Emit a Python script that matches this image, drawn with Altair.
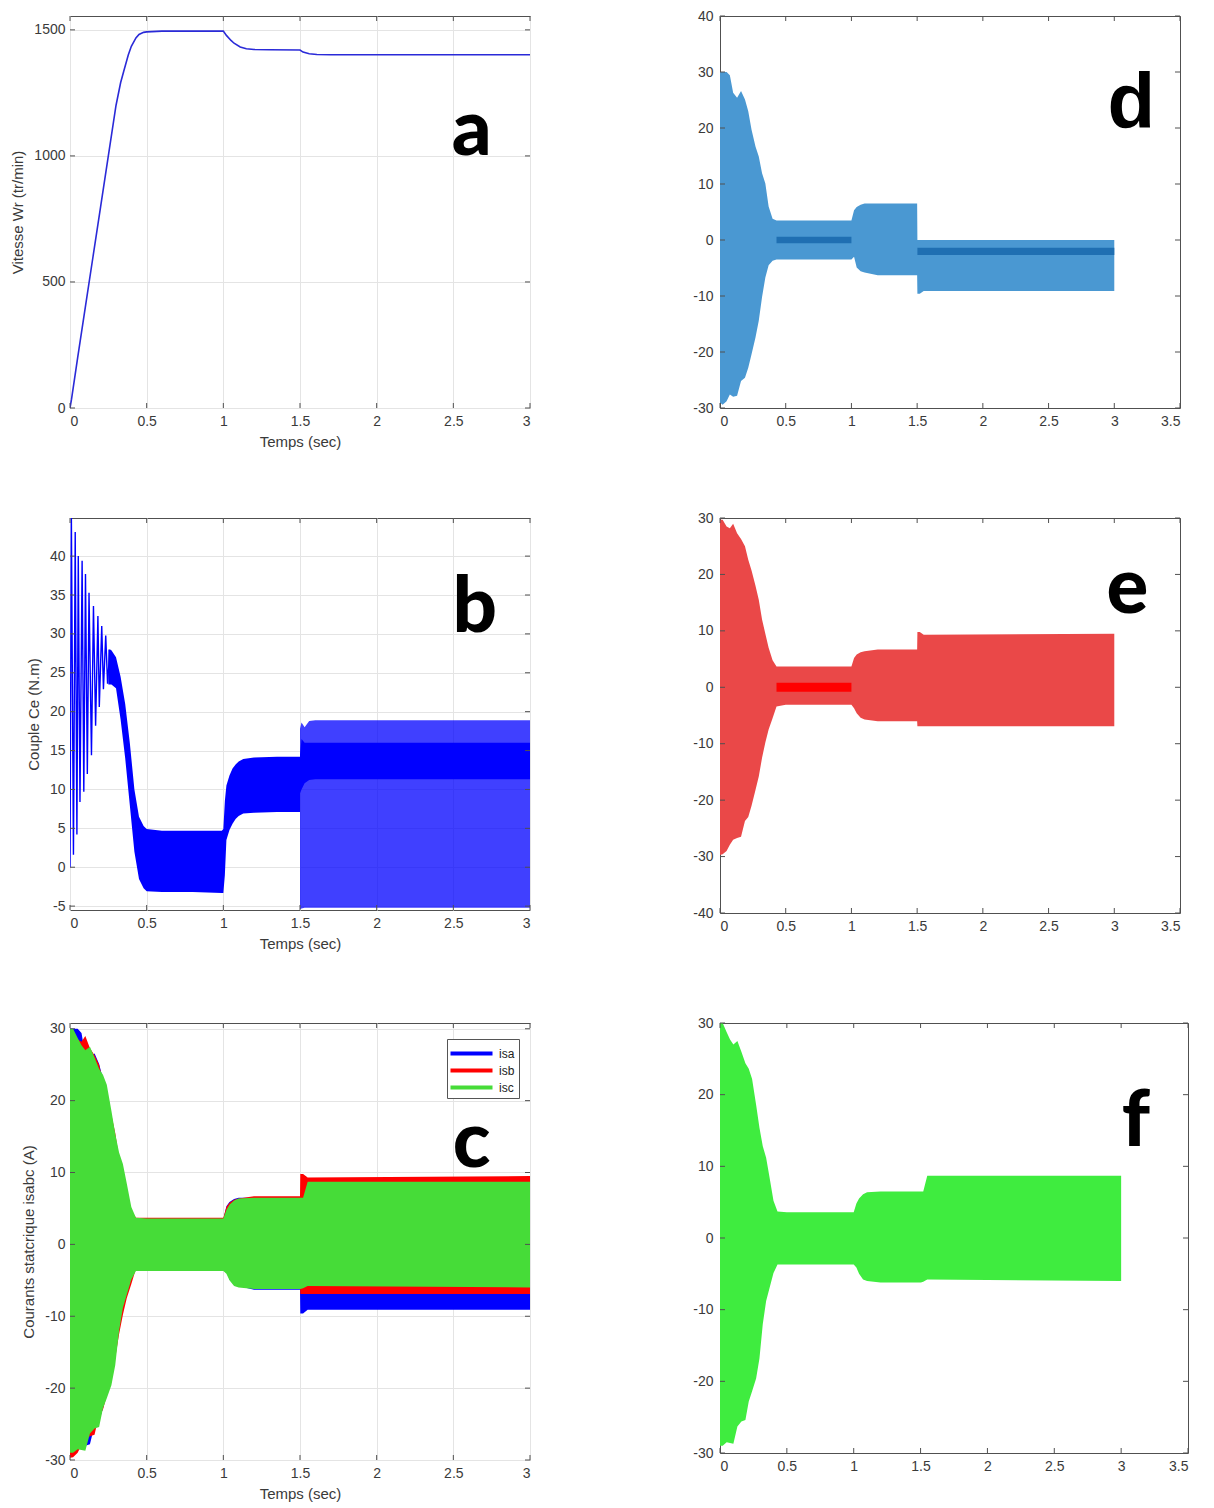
import altair as alt
import pandas as pd

# ---------------- data ----------------
# (a) rotor speed
t_speed = [0, 0.01, 0.05, 0.1, 0.15, 0.2, 0.25, 0.3, 0.33, 0.35, 0.38, 0.4, 0.43, 0.45, 0.48, 0.5,
           0.6, 0.8, 1.0, 1.02, 1.05, 1.07, 1.11, 1.15, 1.2, 1.3, 1.5, 1.52, 1.56, 1.61, 1.7, 2.0, 2.5, 3.0]
speed = [0, 35, 200, 400, 600, 800, 1000, 1200, 1290, 1335, 1400, 1435, 1468, 1482, 1490, 1492,
         1495, 1495, 1495, 1478, 1458, 1447, 1432, 1425, 1422, 1421, 1420, 1412, 1405, 1402, 1401, 1401, 1401, 1401]

# (b) electromagnetic torque: start-up oscillation peaks/troughs
t_torque_osc = [0, 0.009, 0.0225, 0.034, 0.045, 0.054, 0.065, 0.079, 0.09, 0.101, 0.113, 0.124,
                0.14, 0.153, 0.167, 0.182, 0.191, 0.207, 0.218, 0.233, 0.245, 0.26]
torque_osc = [0, 44.9, 1.6, 43.1, 4.2, 40.0, 8.4, 39.4, 9.7, 37.7, 12.0, 35.3,
              14.4, 33.6, 18.2, 32.3, 20.6, 31.0, 22.9, 29.8, 23.6, 28.0]
# (b) ripple envelope 0.25 .. 1.5 s
t_torque_band = [0.25, 0.27, 0.3, 0.33, 0.36, 0.39, 0.42, 0.45, 0.48, 0.5, 0.6, 0.8, 0.99, 1.0,
                 1.01, 1.02, 1.04, 1.06, 1.08, 1.1, 1.13, 1.2, 1.35, 1.5]
torque_hi = [28.0, 27.9, 27.0, 24.5, 21.0, 16.0, 10.0, 6.5, 5.3, 4.9, 4.7, 4.7, 4.7, 4.9,
             8.5, 10.5, 11.8, 12.7, 13.2, 13.6, 13.9, 14.1, 14.2, 14.2]
torque_lo = [23.5, 23.5, 23.0, 19.0, 14.0, 8.0, 2.0, -1.5, -2.7, -3.1, -3.2, -3.2, -3.3, -3.3,
             -1.0, 3.5, 4.8, 5.6, 6.2, 6.6, 6.9, 7.0, 7.1, 7.1]
# (b) ripple envelope 1.5 .. 3 s (outer and dense core)
t_torque_ss = [1.5, 1.51, 1.53, 1.56, 1.6, 2.0, 2.5, 3.0]
torque_ss_hi = [17.8, 18.6, 18.0, 18.8, 18.9, 18.9, 18.9, 18.9]
torque_ss_lo = [-5.4, -5.3, -5.2, -5.2, -5.2, -5.2, -5.2, -5.2]
torque_core_hi = [14.5, 16.5, 16.0, 16.0, 16.0, 16.0, 16.0, 16.0]
torque_core_lo = [9.5, 10.0, 10.8, 11.2, 11.3, 11.3, 11.3, 11.3]

# (c..f) stator phase currents: envelope of the 50 Hz oscillation
t_phase = [0, 0.02, 0.05, 0.075, 0.1, 0.13, 0.16, 0.19, 0.215, 0.24, 0.27, 0.295, 0.32, 0.345, 0.37,
           0.4, 0.43, 0.5, 0.7, 1.0, 1.02, 1.04, 1.07, 1.1, 1.2, 1.5, 1.502, 1.52, 1.55, 3.0]
isa_hi = [30, 30, 30, 29.4, 26.3, 25.4, 26.6, 25.1, 23.0, 19.7, 16.7, 14.9, 11.9, 10.1, 6.0,
          3.8, 3.5, 3.5, 3.5, 3.5, 5.3, 5.9, 6.3, 6.5, 6.5, 6.5, 0, 0, 0, 0]
isa_lo = [-29.0, -29.4, -28.8, -27.6, -28.0, -27.8, -25.2, -24.6, -22.8, -20.4, -17.4, -14.4, -10.2, -6.7, -4.5,
          -3.7, -3.5, -3.5, -3.5, -3.5, -3.0, -4.9, -5.6, -5.8, -6.3, -6.3, -9.6, -9.6, -9.1, -9.1]
isb_hi = [29.7, 29.7, 28.5, 28.2, 29.0, 27.3, 26.3, 25.0, 22.6, 20.7, 18.0, 15.5, 12.0, 9.5, 7.0,
          4.8, 3.7, 3.7, 3.7, 3.7, 5.2, 5.8, 6.2, 6.4, 6.7, 6.7, 9.8, 9.8, 9.3, 9.5]
isb_lo = [-29.7, -29.6, -29.0, -27.9, -27.0, -26.7, -26.5, -23.7, -23.0, -21.0, -18.2, -15.8, -12.5, -9.8, -7.5,
          -5.5, -3.4, -3.1, -3.1, -3.1, -3.7, -4.6, -5.4, -5.7, -6.0, -6.0, -6.9, -6.9, -6.9, -6.9]
isc_hi = [30, 30, 28.7, 27.7, 27.0, 27.5, 26.0, 24.4, 23.6, 22.2, 18.6, 15.4, 12.8, 11.2, 8.5,
          5.2, 3.7, 3.6, 3.6, 3.6, 4.8, 5.5, 6.1, 6.4, 6.5, 6.5, 6.5, 6.5, 8.7, 8.7]
isc_lo = [-29.0, -29.0, -28.5, -28.6, -28.7, -26.3, -25.6, -25.4, -22.8, -21.4, -19.6, -16.8, -12.0, -8.8, -7.0,
          -4.9, -3.7, -3.7, -3.7, -3.7, -4.1, -5.0, -5.8, -6.0, -6.2, -6.2, -6.2, -6.1, -5.8, -6.0]

# dense (darker) centre of the oscillation in panels d and e
isa_core_seg = ["s1", "s1", "s2", "s2"]
isa_core_t = [0.43, 1.0, 1.502, 3.0]
isa_core_hi = [0.6, 0.6, -1.4, -1.4]
isa_core_lo = [-0.6, -0.6, -2.7, -2.7]
isb_core_t = [0.43, 1.0]
isb_core_hi = [0.8, 0.8]
isb_core_lo = [-0.8, -0.8]

series_names = ["isa", "isb", "isc"]
series_colors = ["#0000ff", "#ff0000", "#46dc38"]

x_ticks_3 = [0, 0.5, 1, 1.5, 2, 2.5, 3]
x_ticks_35 = [0, 0.5, 1, 1.5, 2, 2.5, 3, 3.5]

# ---------------- styling ----------------
FONT = "Liberation Sans"
TXT = "#3a3a3a"
BOX = "#505050"
LETTER_FONT = "Lato"
PLAIN = "datum.value + ''"


def df_line(t, v):
    return pd.DataFrame({"t": t, "v": v})


def df_band(t, hi, lo, **extra):
    d = pd.DataFrame({"t": t, "v": hi, "v2": lo})
    for k, val in extra.items():
        d[k] = val
    return d


def letter(t, v, s, font=LETTER_FONT):
    return (pd.DataFrame({"t": [t], "v": [v], "s": [s]}),
            alt.MarkDef(type="text", font=font, fontWeight=900, fontSize=78,
                        color="black", align="center", baseline="alphabetic"), {})


def build(parts, w, h, xdom, xvals, ydom, yvals, xtitle, ytitle, grid, ypad):
    xkw = dict(values=xvals, labelExpr=PLAIN, grid=grid, labelPadding=6, titlePadding=6)
    ykw = dict(values=yvals, labelExpr=PLAIN, grid=grid, labelPadding=ypad, titlePadding=8)
    xkw["title"] = xtitle
    ykw["title"] = ytitle
    x = alt.X("t:Q", scale=alt.Scale(domain=xdom, nice=False, zero=False), axis=alt.Axis(**xkw))
    y = alt.Y("v:Q", scale=alt.Scale(domain=ydom, nice=False, zero=False), axis=alt.Axis(**ykw),
              stack=None)
    layers = []
    for d, mark, extra in parts:
        enc = dict(x=x, y=y)
        if "v2" in d.columns:
            enc["y2"] = alt.Y2("v2:Q")
        if "s" in d.columns:
            enc["text"] = alt.Text("s:N")
        enc.update(extra)
        layers.append(alt.Chart(d, mark=mark).encode(**enc))
    # small inward ticks on the four sides of the box (MATLAB style)
    tick = alt.MarkDef(type="rule", color=BOX, strokeWidth=1)
    xt = pd.DataFrame({"t": xvals})
    yt = pd.DataFrame({"v": yvals})
    layers.append(alt.Chart(xt, mark=tick).encode(x=x, y=alt.value(0), y2=alt.value(5)))
    layers.append(alt.Chart(xt, mark=tick).encode(x=x, y=alt.value(h - 5), y2=alt.value(h)))
    layers.append(alt.Chart(yt, mark=tick).encode(y=y, x=alt.value(0), x2=alt.value(5)))
    layers.append(alt.Chart(yt, mark=tick).encode(y=y, x=alt.value(w - 5), x2=alt.value(w)))
    return alt.layer(*layers).properties(width=w, height=h)


def area(color, opacity=1.0):
    return alt.MarkDef(type="area", color=color, opacity=opacity, clip=True, interpolate="linear")


# ---------------- panel a ----------------
pa = build([
    (df_line(t_speed, speed), alt.MarkDef(type="line", color="#2a2ad8", strokeWidth=1.6, clip=True), {}),
    letter(2.62, 1004, "a"),
], 460, 392, [0, 3], x_ticks_3, [0, 1555], [0, 500, 1000, 1500],
    "Temps (sec)", "Vitesse Wr  (tr/min)", True, 5)

# ---------------- panel b ----------------
pb = build([
    (df_band(t_torque_band, torque_hi, torque_lo), area("#0000ff"), {}),
    (df_band(t_torque_ss, torque_ss_hi, torque_ss_lo), area("#0000ff", 0.75), {}),
    (df_band(t_torque_ss, torque_core_hi, torque_core_lo), area("#0000ff"), {}),
    (df_line(t_torque_osc, torque_osc), alt.MarkDef(type="line", color="#0000ff", strokeWidth=1.4, clip=True), {}),
    letter(2.64, 30.2, "b"),
], 460, 392, [0, 3], x_ticks_3, [-5.5, 44.9], [-5, 0, 5, 10, 15, 20, 25, 30, 35, 40],
    "Temps (sec)", "Couple Ce (N.m)", True, 5)

# ---------------- panel c ----------------
c_df = pd.concat([
    df_band(t_phase, isa_hi, isa_lo, series="isa"),
    df_band(t_phase, isb_hi, isb_lo, series="isb"),
    df_band(t_phase, isc_hi, isc_lo, series="isc"),
])
c_color = alt.Color("series:N",
                    scale=alt.Scale(domain=series_names, range=series_colors),
                    legend=alt.Legend(orient="none", legendX=377, legendY=16, title=None,
                                      symbolType="M-2,-0.2H2V0.2H-2Z", symbolSize=441,
                                      symbolOffset=10, labelOffset=17,
                                      symbolOpacity=1, symbolStrokeWidth=0,
                                      labelFont=FONT, labelFontSize=12, labelColor="#222",
                                      strokeColor="#555", fillColor="white", padding=4,
                                      rowPadding=0))
pc = build([
    (c_df, area("#00ff00"), {"color": c_color}),
    letter(2.62, 10.8, "c"),
], 460, 437, [0, 3], x_ticks_3, [-30, 30.8], [-30, -20, -10, 0, 10, 20, 30],
    "Temps (sec)", "Courants statcrique isabc (A)", True, 5)

# ---------------- panel d ----------------
d_core = pd.DataFrame({"t": isa_core_t, "v": isa_core_hi, "v2": isa_core_lo, "seg": isa_core_seg})
pd_ = build([
    (df_band(t_phase, isa_hi, isa_lo), area("#4a98d2"), {}),
    (d_core, area("#1f6fb2"), {"detail": alt.Detail("seg:N")}),
    letter(3.13, 20.0, "d", font=FONT),
], 460, 392, [0, 3.5], x_ticks_35, [-30, 40], [-30, -20, -10, 0, 10, 20, 30, 40],
    None, None, False, 7)

# ---------------- panel e ----------------
pe = build([
    (df_band(t_phase, isb_hi, isb_lo), area("#ea4848"), {}),
    (df_band(isb_core_t, isb_core_hi, isb_core_lo), area("#ff0000"), {}),
    letter(3.10, 13.2, "e"),
], 460, 395, [0, 3.5], x_ticks_35, [-40, 30], [-40, -30, -20, -10, 0, 10, 20, 30],
    None, None, False, 7)

# ---------------- panel f ----------------
pf = build([
    (df_band(t_phase, isc_hi, isc_lo), area("#3fec3f"), {}),
    letter(3.11, 12.8, "f"),
], 468, 430, [0, 3.5], x_ticks_35, [-30, 30], [-30, -20, -10, 0, 10, 20, 30],
    None, None, False, 7)

# ---------------- layout ----------------
chart = (
    alt.concat(pa, pd_, pb, pe, pc, pf, columns=2, bounds="flush",
               spacing=alt.RowColnumber(row=110, column=190))
    .resolve_scale(color="independent")
    .resolve_legend(color="independent")
    .properties(padding={"left": 2, "top": 0, "right": 5, "bottom": 5})
    .configure_view(stroke=BOX, strokeWidth=1)
    .configure_axis(labelFont=FONT, labelFontSize=14, labelColor=TXT,
                    titleFont=FONT, titleFontSize=15, titleFontWeight="normal", titleColor=TXT,
                    ticks=False, domain=False, gridColor="#e4e4e4", gridWidth=1)
)

chart.save("out.html", embed_options={"renderer": "svg", "actions": False})
